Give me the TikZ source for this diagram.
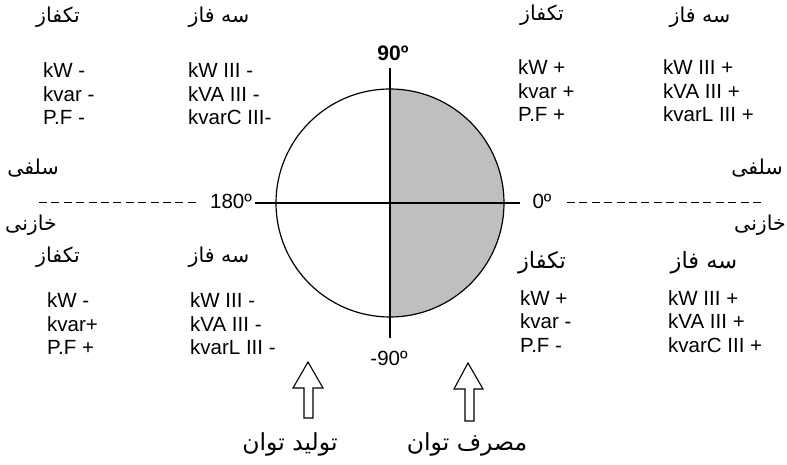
\documentclass[tikz,border=0pt]{standalone}
\usepackage{fontspec}
\setmainfont{Liberation Sans}
\newfontfamily\farsi[Script=Arabic]{DejaVu Sans}
\TeXXeTstate=1
\newcommand{\rtltext}[1]{{\farsi\beginR #1\endR}}
\definecolor{halfgray}{RGB}{190,191,191}
\begin{document}
\begin{tikzpicture}[x=1pt,y=-1pt,
  lat/.style={font=\fontsize{20.5}{23}\selectfont, inner sep=0pt, anchor=base west},
  fa/.style={font=\fontsize{20.5}{24}\selectfont, inner sep=0pt},
  fabig/.style={font=\fontsize{22.5}{26}\selectfont, inner sep=0pt},
  fabottom/.style={font=\fontsize{23.5}{28}\selectfont, inner sep=0pt},
  deg/.style={font=\fontsize{20.5}{23}\selectfont, inner sep=0pt},
  axis/.style={line width=1.2pt},
  dashline/.style={line width=1pt, dash pattern=on 8pt off 4.4pt},
  bigarrow/.style={line width=1.1pt, line join=miter}]
\useasboundingbox (0,0) rectangle (787,465);

% half fill and circle
\fill[halfgray] (390,89) arc[start angle=-90, end angle=90, radius=114] -- cycle;
\node[draw, circle, minimum size=228pt, inner sep=0pt, line width=1.2pt] (c) at (390,203) {};

% axes
\coordinate (vt) at (390,68);
\coordinate (vb) at (390,338);
\coordinate (hl) at (255,203);
\coordinate (hr) at (520,203);
\draw[axis] (vt) -- (vb);
\draw[axis] (hl) -- (hr);

% degree labels
\node[deg, font=\fontsize{21}{23}\selectfont\bfseries] (d90) at (393,53) {90º};
\node[deg] (dm90) at (389,358) {-90º};
\node[deg] (d180) at (231,201) {180º};
\node[deg] (d0) at (542,201) {0º};

% dashed lines
\coordinate (dl1) at (39,203);
\coordinate (dl2) at (196,203);
\coordinate (dr1) at (567,203);
\coordinate (dr2) at (763,203);
\draw[dashline] (dl1) -- (dl2);
\draw[dashline] (dr1) -- (dr2);

% side labels
\node[fa] (sl) at (33,168) {\rtltext{سلفی}};
\node[fa] (kl) at (31,225) {\rtltext{خازنی}};
\node[fa] (sr) at (757,168) {\rtltext{سلفی}};
\node[fa, anchor=east] (kr) at (786,225) {\rtltext{خازنی}};

% top-left quadrant
\node[fa] (h1a) at (58,17) {\rtltext{تکفاز}};
\node[fa] (h1b) at (219,17) {\rtltext{سه فاز}};
\node[lat] (a1) at (43,78) {kW -};
\node[lat] (a2) at (43,101.5) {kvar -};
\node[lat] (a3) at (43,125) {P.F -};
\node[lat] (b1) at (188,78) {kW III -};
\node[lat] (b2) at (188,101.5) {kVA III -};
\node[lat] (b3) at (188,125) {kvarC III-};

% top-right quadrant
\node[fa] (h2a) at (542,15) {\rtltext{تکفاز}};
\node[fa] (h2b) at (700,17) {\rtltext{سه فاز}};
\node[lat] (c1) at (518,75) {kW +};
\node[lat] (c2) at (518,98.5) {kvar +};
\node[lat] (c3) at (518,122) {P.F +};
\node[lat] (e1) at (663,75) {kW III +};
\node[lat] (e2) at (663,98.5) {kVA III +};
\node[lat] (e3) at (663,122) {kvarL III +};

% bottom-left quadrant
\node[fa] (h3a) at (58,257) {\rtltext{تکفاز}};
\node[fa] (h3b) at (219,257) {\rtltext{سه فاز}};
\node[lat] (f1) at (47,307) {kW -};
\node[lat] (f2) at (47,331) {kvar+};
\node[lat] (f3) at (47,354.5) {P.F +};
\node[lat] (g1) at (190,307) {kW III -};
\node[lat] (g2) at (190,331) {kVA III -};
\node[lat] (g3) at (190,354.5) {kvarL III -};

% bottom-right quadrant
\node[fabig] (h4a) at (542,263) {\rtltext{تکفاز}};
\node[fabig] (h4b) at (704,263) {\rtltext{سه فاز}};
\node[lat] (i1) at (520,305) {kW +};
\node[lat] (i2) at (520,328.5) {kvar -};
\node[lat] (i3) at (520,352) {P.F -};
\node[lat] (j1) at (668,305) {kW III +};
\node[lat] (j2) at (668,328.5) {kVA III +};
\node[lat] (j3) at (668,352) {kvarC III +};

% arrows
\draw[bigarrow] (308,362) -- (323,388) -- (313,388) -- (313,418) -- (304,418) -- (304,388) -- (293,388) -- cycle;
\draw[bigarrow] (468,363) -- (483,389) -- (474,389) -- (474,421) -- (465,421) -- (465,389) -- (454,389) -- cycle;

% bottom labels
\node[fabottom] (gen) at (290,444) {\rtltext{تولید توان}};
\node[fabottom] (con) at (467,444) {\rtltext{مصرف توان}};
\end{tikzpicture}
\end{document}
